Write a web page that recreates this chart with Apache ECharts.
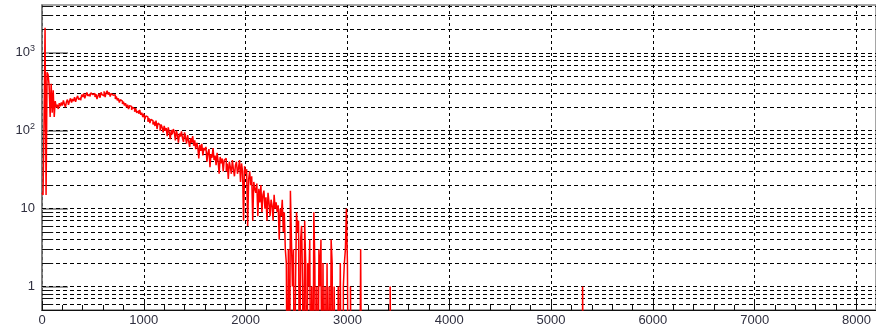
<!DOCTYPE html>
<html>
<head>
<meta charset="utf-8">
<script src="https://cdn.jsdelivr.net/npm/echarts@6/dist/echarts.min.js"></script>
<style>
  html, body { margin: 0; padding: 0; background: #fff; }
  #chart { width: 876px; height: 327px; }
</style>
</head>
<body>
<div id="chart"></div>
<script>
// Histogram: counts per 10-unit bin, log-scale y axis.
const binWidth = 10;
const counts = [
  16, 15, 120, 2100, 15, 560, 520, 380, 150, 400,       // 0-100
  170, 330, 150, 240, 200, 215, 190, 225, 205, 230,     // 100-200
  210, 245, 220, 200, 235, 250, 215, 240, 260, 230,     // 200-300
  255, 240, 270, 235, 260, 280, 250, 265, 245, 290,     // 300-400
  270, 300, 260, 285, 310, 280, 295, 275, 305, 290,     // 400-500
  285, 300, 270, 295, 255, 280, 300, 265, 310, 290,     // 500-600
  280, 320, 270, 305, 325, 290, 310, 275, 300, 285,     // 600-700
  270, 290, 255, 275, 245, 260, 230, 250, 240, 220,     // 700-800
  235, 210, 225, 200, 215, 190, 210, 205, 185, 200,     // 800-900
  190, 175, 195, 170, 180, 165, 185, 160, 170, 150,     // 900-1000
  165, 140, 155, 150, 130, 145, 125, 140, 135, 120,     // 1000-1100
  130, 115, 135, 105, 125, 118, 100, 120, 110, 95,      // 1100-1200
  115, 100, 108, 85, 110, 95, 78, 102, 90, 105,         // 1200-1300
  96, 75, 100, 88, 70, 92, 84, 98, 80, 72,              // 1300-1400
  95, 82, 68, 88, 74, 62, 80, 70, 85, 64,               // 1400-1500
  75, 58, 70, 62, 44, 66, 55, 68, 48, 60,               // 1500-1600
  56, 62, 40, 52, 58, 34, 50, 45, 60, 42,               // 1600-1700
  48, 36, 52, 40, 28, 46, 38, 44, 30, 42,               // 1700-1800
  44, 30, 38, 24, 40, 34, 28, 42, 32, 26,               // 1800-1900
  36, 40, 28, 33, 42, 22, 38, 30, 7, 35,                // 1900-2000
  28, 32, 6, 24, 30, 20, 26, 7, 22, 18,                 // 2000-2100
  16, 21, 8, 18, 12, 20, 9, 15, 17, 10,                 // 2100-2200
  14, 7, 16, 12, 8, 13, 11, 7, 15, 10,                  // 2200-2300
  12, 9, 11, 4, 10, 8, 13, 5, 9, 3,                     // 2300-2400
  2, 0, 3, 0, 17, 4, 1, 3, 0, 1,                        // 2400-2500
  9, 5, 7, 0, 4, 6, 1, 0, 7, 2,                         // 2500-2600
  0, 2, 1, 4, 0, 1, 0, 9, 2, 0,                         // 2600-2700
  1, 0, 3, 1, 4, 0, 2, 0, 1, 0,                         // 2700-2800
  2, 0, 1, 0, 4, 2, 0, 1, 0, 0,                         // 2800-2900
  0, 1, 0, 2, 0, 0, 1, 2, 3, 10,                        // 2900-3000
  2, 0, 0, 1, 0, 0, 0, 0, 0, 0,                         // 3000-3100
  0, 0, 0, 3, 0, 0, 0, 0, 0, 0                          // 3100-3200
];
// Isolated single-bin entries further out
const isolatedBinStarts = [3420, 5310];
const isolatedCounts = [1, 1];

const xMin = 0, xMax = 8192, xStep = 1000;
const yMin = 0.5, yMax = 4100;
const decades = [1, 10, 100, 1000];
const gridLevels = [
  0.6, 0.7, 0.8, 0.9,
  1, 2, 3, 4, 5, 6, 7, 8, 9,
  10, 20, 30, 40, 50, 60, 70, 80, 90,
  100, 200, 300, 400, 500, 600, 700, 800, 900,
  1000, 2000, 3000, 4000
];

// Empty bins sit below the visible range, so their edges drop to the frame bottom.
const EMPTY = 0.01;
const shown = c => (c > 0 ? c : EMPTY);

const points = [];
counts.forEach((c, i) => points.push([i * binWidth, shown(c)]));
points.push([counts.length * binWidth, EMPTY]);
isolatedBinStarts.forEach((x0, k) => {
  points.push([x0, shown(isolatedCounts[k])]);
  points.push([x0 + binWidth, EMPTY]);
});
points.push([xMax, EMPTY]);

const dash = [4, 3];
const markData = [];
gridLevels.forEach(v => {
  markData.push({ yAxis: v, lineStyle: { type: dash, color: '#000', width: 1 } });
});
gridLevels.filter(v => decades.indexOf(v) < 0 && v < yMax).forEach(v => {
  markData.push([
    { coord: [0, v], lineStyle: { type: 'solid', color: '#111', width: 1 } },
    { coord: [110, v] }
  ]);
});

const labelFont = 'Liberation Sans, Arial, sans-serif';
const labelColor = '#2f2f3f';

const chart = echarts.init(document.getElementById('chart'), null, { renderer: 'canvas' });
chart.setOption({
  animation: false,
  backgroundColor: '#fff',
  grid: {
    left: 42, top: 5, width: 838, height: 305,
    show: true, borderColor: '#888', borderWidth: 1.5, backgroundColor: 'transparent'
  },
  xAxis: {
    type: 'value',
    min: xMin, max: xMax, interval: xStep,
    axisLine: { show: true, onZero: false, lineStyle: { color: '#111', width: 1.2 } },
    axisTick: { show: true, inside: true, length: 9, lineStyle: { color: '#111' } },
    minorTick: { show: true, splitNumber: 5, length: 5, lineStyle: { color: '#111' } },
    axisLabel: {
      margin: 4, fontFamily: labelFont, fontSize: 13, color: labelColor,
      showMaxLabel: false,
      formatter: v => String(v)
    },
    splitLine: { show: true, lineStyle: { type: [3, 3], color: '#000', width: 1 } }
  },
  yAxis: {
    type: 'log', logBase: 10,
    min: yMin, max: yMax,
    axisLine: { show: true, lineStyle: { color: '#777', width: 1.5 } },
    axisTick: { show: true, inside: true, length: 26, lineStyle: { color: '#999', width: 2 } },
    splitLine: { show: false },
    axisLabel: {
      margin: 7,
      showMinLabel: false, showMaxLabel: false,
      fontFamily: labelFont, fontSize: 13, color: labelColor,
      formatter: v => {
        const e = Math.round(Math.log10(v));
        if (Math.abs(Math.pow(10, e) - v) > 1e-6 * v) return '';
        if (e === 0) return '1';
        if (e === 1) return '10';
        return '10{s|' + e + '}';
      },
      rich: {
        s: { fontSize: 9, fontFamily: labelFont, color: labelColor, padding: [0, 0, 9, 0] }
      }
    }
  },
  series: [
    {
      // horizontal grid at every log sub-division, plus short inner ticks
      type: 'line',
      data: [],
      z: 1,
      markLine: {
        silent: true,
        symbol: 'none',
        label: { show: false },
        animation: false,
        data: markData
      }
    },
    {
      type: 'line',
      data: points,
      step: 'end',
      showSymbol: false,
      symbol: 'none',
      clip: true,
      lineStyle: { color: '#ff0000', width: 1.5 },
      z: 10
    }
  ]
});
</script>
</body>
</html>
